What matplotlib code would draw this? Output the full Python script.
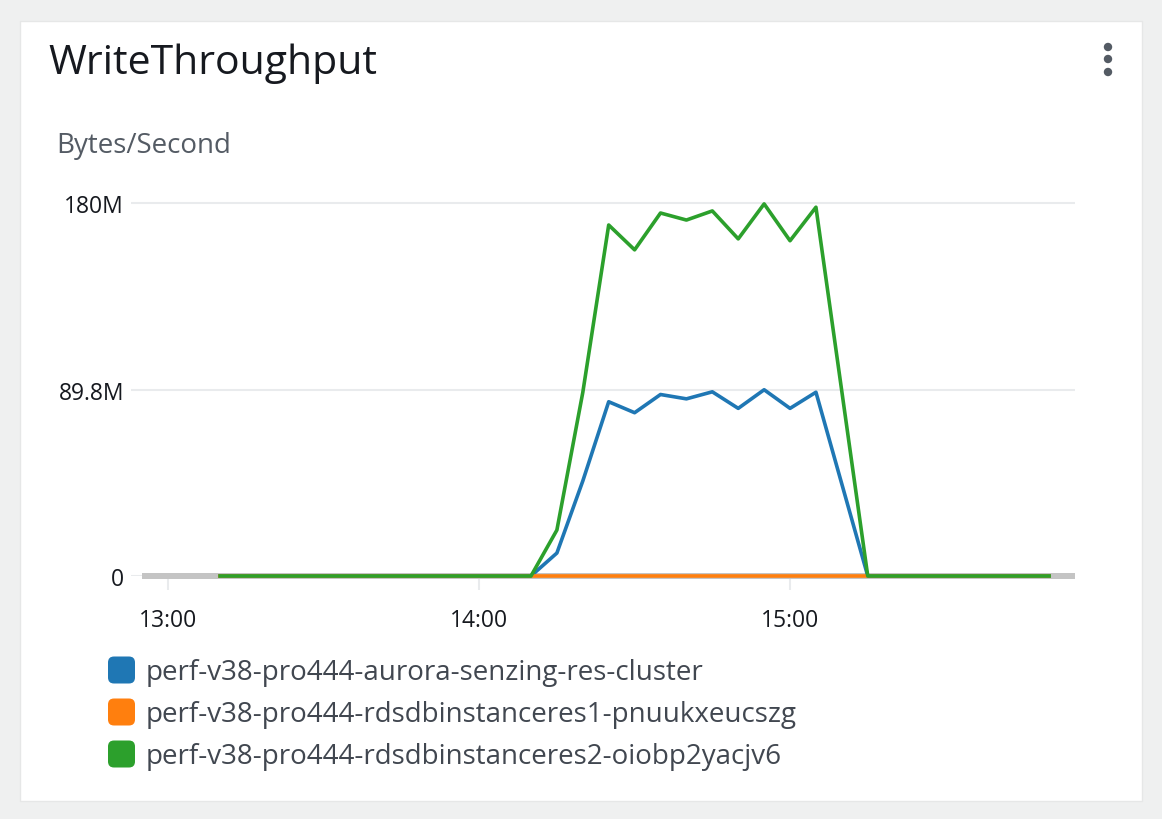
import matplotlib.pyplot as plt
from matplotlib.patches import FancyBboxPatch, Rectangle, Circle

plt.rcParams['font.family'] = ['Open Sans', 'DejaVu Sans']

# sample times (HH:MM) and values in MB/s
times = ["13:10", "14:10", "14:15", "14:20", "14:25", "14:30", "14:35", "14:40",
         "14:45", "14:50", "14:55", "15:00", "15:05", "15:15", "15:50"]
cluster = [0, 0, 11.1, 45.9, 84.2, 78.9, 87.7, 85.6, 89.0, 81.0, 90.0, 81.0, 88.8, 0, 0]
instance1 = [0, 0, 0, 0, 0, 0, 0, 0, 0, 0, 0, 0, 0, 0, 0]
instance2 = [0, 0, 22.2, 88.7, 169.6, 157.6, 175.4, 172.0, 176.4, 162.9, 179.8, 162.0, 178.2, 0, 0]

series_names = ["perf-v38-pro444-aurora-senzing-res-cluster",
                "perf-v38-pro444-rdsdbinstanceres1-pnuukxeucszg",
                "perf-v38-pro444-rdsdbinstanceres2-oiobp2yacjv6"]
series_colors = ["#1f77b4", "#ff7f0e", "#2ca02c"]

y_ticks = [0, 89.8, 180]
y_labels = ["0", "89.8M", "180M"]
x_ticks = ["13:00", "14:00", "15:00"]


def minutes(hhmm):
    h, m = hhmm.split(':')
    return int(h) * 60 + int(m)


W, H = 1162, 820
fig = plt.figure(figsize=(W / 100, H / 100), dpi=100)
fig.patch.set_facecolor('#eff0f0')

# white card behind everything
fig.patches.append(Rectangle((20 / W, 1 - 802 / H), 1122 / W, 780 / H,
                             transform=fig.transFigure, facecolor='white',
                             edgecolor='#e6e7e7', lw=1, zorder=-5))

fig.text(48 / W, 1 - 74 / H, "WriteThroughput", fontsize=29.5, color='#16191f',
         va='baseline', fontweight='medium')
fig.text(56 / W, 1 - 153 / H, "Bytes/Second", fontsize=20, color='#545b64', va='baseline')

# kebab menu
for yy in (48, 60, 73):
    fig.patches.append(Circle((1108 / 100, (H - yy) / 100), 0.035,
                              transform=fig.dpi_scale_trans, color='#545b64'))

ax = fig.add_axes([131 / W, 1 - 577 / H, (1075 - 131) / W, (577 - 190) / H])
ax.set_facecolor('none')
x = [minutes(t) for t in times]
ax.hlines(0, minutes("12:55"), minutes("15:55"), color='#c4c4c4', lw=4.3, zorder=2, clip_on=False)
for vals, c in zip([cluster, instance1, instance2], series_colors):
    ax.plot(x, vals, color=c, lw=2.6, zorder=3, clip_on=False)

ax.set_xlim(minutes("12:55") - 2.2, minutes("15:55"))
ax.set_ylim(0, 187)
for s in ax.spines.values():
    s.set_visible(False)
ax.set_yticks(y_ticks, y_labels)
ax.set_xticks([minutes(t) for t in x_ticks], x_ticks)
ax.yaxis.grid(True, color='#e9ebed', lw=1.5)
ax.set_axisbelow(True)
ax.tick_params(axis='y', length=0, pad=5, labelsize=16.5, labelcolor='#16191f')
ax.tick_params(axis='x', direction='out', length=10, width=1.5, color='#e9ebed',
               pad=13, labelsize=16.5, labelcolor='#16191f')

# legend
for i, (name, c) in enumerate(zip(series_names, series_colors)):
    yc = 671 + i * 42
    fig.patches.append(FancyBboxPatch((113 / 100, (H - yc - 8.5) / 100), 0.17, 0.17,
                                      boxstyle="round,pad=0.05,rounding_size=0.06",
                                      transform=fig.dpi_scale_trans, facecolor=c, edgecolor='none'))
    fig.text(146 / W, 1 - (yc + 2) / H, name, fontsize=20, color='#414750', va='center')

fig.savefig('out.png', dpi=100, facecolor=fig.get_facecolor())
